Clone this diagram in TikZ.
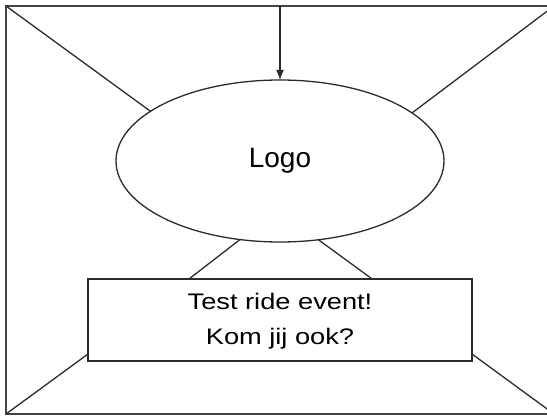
\documentclass[tikz,border=0pt]{standalone}
\usepackage{fontspec}
\setmainfont{Liberation Sans}
\usetikzlibrary{shapes.geometric,arrows.meta,calc}
\definecolor{ink}{HTML}{2B2B2B}
\definecolor{frame}{HTML}{444444}
\tikzset{
  conn/.style={draw=ink,line width=1.3pt},
  logobox/.style={ellipse,draw=ink,line width=1.3pt,minimum width=328pt,minimum height=162pt,inner sep=0pt,outer sep=0pt,font=\fontsize{28}{34}\selectfont},
  msgbox/.style={rectangle,draw=ink,line width=1.3pt,minimum width=384pt,minimum height=82pt,inner sep=0pt,outer sep=0pt,align=center,font=\fontsize{22.5}{35}\selectfont},
}
\begin{document}
\begin{tikzpicture}[x=1pt,y=1pt]
\useasboundingbox (0,0) rectangle (547,416);
\draw[draw=frame,line width=2pt] (6,2) rectangle (554,410);
\coordinate (tl) at (6,410);
\coordinate (tr) at (554,410);
\coordinate (bl) at (6,2);
\coordinate (br) at (554,2);
\coordinate (top) at (280,410);
\node[logobox] (logo) at (280,255) {\raisebox{-2pt}{Logo}};
\node[msgbox] (msg) at (280,96) {\scalebox{1.21}[1]{\begin{tabular}{@{}c@{}}Test ride event!\\Kom jij ook?\end{tabular}}};
\draw[conn,-{Latex[length=10pt,width=8pt]}] (top) -- (logo.north);
\draw[conn] (tl) -- (logo.159.6);
\draw[conn] (tr) -- (logo.20.4);
\draw[conn] (logo.243.1) -- ($(msg.north west)!0.263!(msg.north east)$);
\draw[conn] (logo.296.9) -- ($(msg.north west)!0.74!(msg.north east)$);
\draw[conn] (bl) -- ($(msg.south west)!0.085!(msg.north west)$);
\draw[conn] (br) -- ($(msg.south east)!0.085!(msg.north east)$);
\end{tikzpicture}
\end{document}
